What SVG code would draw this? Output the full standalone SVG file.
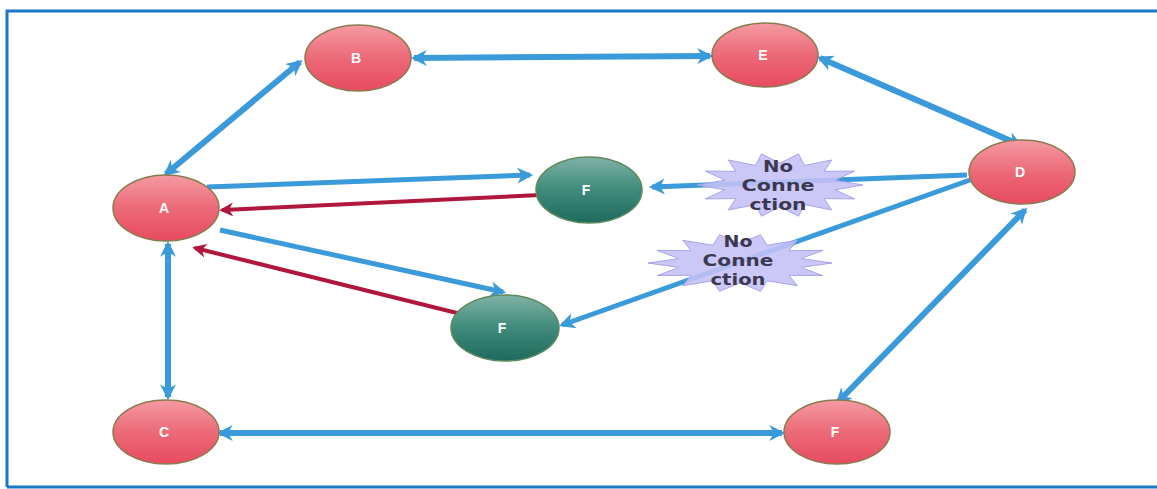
<svg xmlns="http://www.w3.org/2000/svg" width="1157" height="489" viewBox="0 0 1157 489">
<defs>
<linearGradient id="gp" x1="0" y1="0" x2="0" y2="1">
<stop offset="0" stop-color="#f49aa2"/><stop offset="0.5" stop-color="#ec6a78"/><stop offset="1" stop-color="#e84a60"/>
</linearGradient>
<linearGradient id="gg" x1="0" y1="0" x2="0" y2="1">
<stop offset="0" stop-color="#7fb3a6"/><stop offset="0.5" stop-color="#3f8a7a"/><stop offset="1" stop-color="#1d6b5d"/>
</linearGradient>
<marker id="ab" viewBox="0 0 10 10" refX="8" refY="5" markerWidth="18" markerHeight="16" markerUnits="userSpaceOnUse" orient="auto-start-reverse">
<path d="M0,0 L10,5 L0,10 L3,5 Z" fill="#3b9ad9"/>
</marker>
<marker id="ar" viewBox="0 0 10 10" refX="8" refY="5" markerWidth="16" markerHeight="14" markerUnits="userSpaceOnUse" orient="auto-start-reverse">
<path d="M0,0 L10,5 L0,10 L3,5 Z" fill="#b0173c"/>
</marker>
</defs>
<style>
.b{stroke:#3b9ad9;stroke-width:5;fill:none;marker-end:url(#ab)}
.bb{stroke:#3b9ad9;stroke-width:6;fill:none;marker-end:url(#ab);marker-start:url(#ab)}
.r{stroke:#b0173c;stroke-width:4;fill:none;marker-end:url(#ar)}
.np{fill:url(#gp);stroke:#8a7a50;stroke-width:1.5}
.ng{fill:url(#gg);stroke:#5f8a60;stroke-width:1.5}
.lbl{font-family:"Liberation Sans",Arial,sans-serif;font-size:14px;font-weight:bold;fill:#ffffff;text-anchor:middle}
.st{fill:#c4c0f6;fill-opacity:0.88;stroke:#a9a4e6;stroke-width:1}
.nc{font-family:"DejaVu Sans",sans-serif;font-size:15px;font-weight:bold;fill:#3d3852;text-anchor:middle}
</style>
<rect width="1157" height="489" fill="#ffffff"/>
<path d="M7,487 L7,11 L1157,11 M7,487 L1157,487" fill="none" stroke="#1a78c8" stroke-width="3"/>
<g id="connectors">
<line class="bb" x1="300" y1="62" x2="166" y2="174"/>
<line class="bb" x1="414" y1="58" x2="710" y2="56"/>
<line class="bb" x1="820" y1="58" x2="1020" y2="145"/>
<line class="bb" x1="168" y1="244" x2="168" y2="397"/>
<line class="bb" x1="220" y1="433" x2="782" y2="433"/>
<line class="bb" x1="1025" y1="210" x2="838" y2="402"/>
<line class="b" x1="207" y1="187" x2="530" y2="175"/>
<line class="b" x1="220" y1="230" x2="503" y2="292"/>
<line class="b" x1="967" y1="175" x2="652" y2="187"/>
<line class="b" x1="970" y1="180" x2="562" y2="325"/>
<line class="r" x1="540" y1="195" x2="222" y2="210"/>
<line class="r" x1="465" y1="315" x2="195" y2="248"/>
</g>
<g id="nc1">
<polygon class="st" points="863,185 835,189.8 854.8,198.9 824.2,198.6 831.7,210 804.5,204.6 798.5,216.2 780,206.8 761.5,216.2 755.5,204.6 728.3,210 735.8,198.6 705.2,198.9 725,189.8 697,185 725,180.2 705.2,171.1 735.8,171.4 728.3,160 755.5,165.4 761.5,153.8 780,163.2 798.5,153.8 804.5,165.4 831.7,160 824.2,171.4 854.8,171.1 835,180.2"/>
<text class="nc" x="778" y="172" textLength="30" lengthAdjust="spacingAndGlyphs">No</text>
<text class="nc" x="778" y="191" textLength="73" lengthAdjust="spacingAndGlyphs">Conne</text>
<text class="nc" x="778" y="210" textLength="57" lengthAdjust="spacingAndGlyphs">ction</text>
</g>
<g id="nc2">
<polygon class="st" points="832,263 801,267.4 822.9,275.6 788.9,275.3 797.3,285.7 767.1,280.8 760.5,291.3 740,282.7 719.5,291.3 712.9,280.8 682.7,285.7 691.1,275.3 657.1,275.6 679,267.4 648,263 679,258.6 657.1,250.4 691.1,250.7 682.7,240.3 712.9,245.2 719.5,234.7 740,243.3 760.5,234.7 767.1,245.2 797.3,240.3 788.9,250.7 822.9,250.4 801,258.6"/>
<text class="nc" x="738" y="247" textLength="29" lengthAdjust="spacingAndGlyphs">No</text>
<text class="nc" x="738" y="266" textLength="71" lengthAdjust="spacingAndGlyphs">Conne</text>
<text class="nc" x="738" y="285" textLength="55" lengthAdjust="spacingAndGlyphs">ction</text>
</g>
<g id="B"><ellipse class="np" cx="358" cy="58" rx="53" ry="33"/><text class="lbl" x="356" y="63">B</text></g>
<g id="E"><ellipse class="np" cx="765" cy="55" rx="53" ry="32"/><text class="lbl" x="763" y="60">E</text></g>
<g id="D"><ellipse class="np" cx="1022" cy="172" rx="53" ry="32"/><text class="lbl" x="1020" y="177">D</text></g>
<g id="A"><ellipse class="np" cx="166" cy="208" rx="53" ry="33"/><text class="lbl" x="164" y="213">A</text></g>
<g id="F1"><ellipse class="ng" cx="589" cy="190" rx="53" ry="33"/><text class="lbl" x="586" y="195">F</text></g>
<g id="F2"><ellipse class="ng" cx="505" cy="328" rx="54" ry="33"/><text class="lbl" x="502" y="333">F</text></g>
<g id="C"><ellipse class="np" cx="166" cy="432" rx="53" ry="32"/><text class="lbl" x="164" y="437">C</text></g>
<g id="F3"><ellipse class="np" cx="837" cy="432" rx="53" ry="32"/><text class="lbl" x="835" y="437">F</text></g>
</svg>
